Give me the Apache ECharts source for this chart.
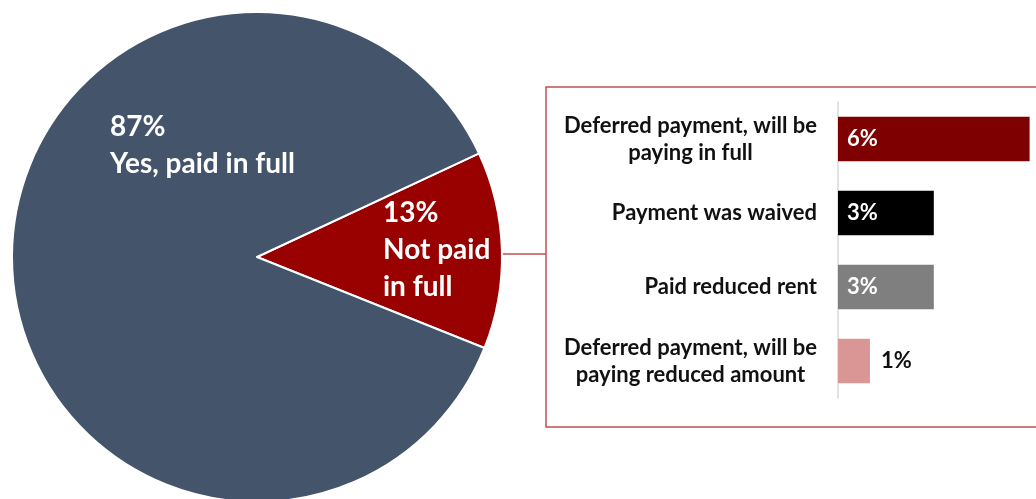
<!DOCTYPE html>
<html>
<head>
<meta charset="utf-8">
<script src="https://cdn.jsdelivr.net/npm/echarts@6/dist/echarts.min.js"></script>
<style>
html,body{margin:0;padding:0;background:#fff;}
#chart{width:1036px;height:499px;}
</style>
</head>
<body>
<div id="chart"></div>
<script>
// Pie data
const pieNames = ['Not paid\nin full', 'Yes, paid in full'];
const pieValues = [13, 87];
// Breakdown bar data
const barCategories = [
  'Deferred payment, will be\npaying in full',
  'Payment was waived',
  'Paid reduced rent',
  'Deferred payment, will be\npaying reduced amount'
];
const barValues = [6, 3, 3, 1];

const pieColors = ['#990000', '#44546A'];
const barColors = ['#7F0000', '#000000', '#7F7F7F', '#D99694'];
const FONT = 'Lato';

const chart = echarts.init(document.getElementById('chart'), null, {renderer: 'canvas'});

const catStyle = {fontSize: 22, fontWeight: 'bold', lineHeight: 27, color: '#111111', fontFamily: FONT};

const option = {
  backgroundColor: '#ffffff',
  animation: false,
  textStyle: {fontFamily: FONT},
  graphic: [
    {type: 'rect', z: 0, shape: {x: 546, y: 87, width: 520, height: 340},
     style: {fill: 'none', stroke: '#C0504D', lineWidth: 1.5}},
    {type: 'line', z: 0, shape: {x1: 500, y1: 254, x2: 546, y2: 254},
     style: {stroke: '#C0504D', lineWidth: 1.5}}
  ],
  grid: {left: 838, top: 102, width: 200, height: 296, containLabel: false},
  xAxis: {type: 'value', min: 0, max: 6.2, show: false, splitLine: {show: false}},
  yAxis: {
    type: 'category', inverse: true, data: barCategories,
    axisLine: {show: true, lineStyle: {color: '#D9D9D9', width: 1.5}},
    axisTick: {show: false},
    axisLabel: Object.assign({margin: 21, align: 'right',
      formatter: v => v.split('\n').map(s => '{c|' + s + '}').join('\n'),
      rich: {c: Object.assign({align: 'center'}, catStyle)}
    }, catStyle)
  },
  series: [
    {
      type: 'pie',
      center: [257, 257],
      radius: 245,
      startAngle: 25,
      clockwise: true,
      data: pieNames.map((n, i) => ({name: n, value: pieValues[i], itemStyle: {color: pieColors[i]}})),
      itemStyle: {borderColor: '#ffffff', borderWidth: 2},
      label: {
        show: true, position: 'inside', color: '#ffffff', fontSize: 28,
        fontWeight: 'bold', fontFamily: FONT, lineHeight: 37,
        formatter: p => p.value + '%\n' + p.name
      },
      labelLine: {show: false},
      labelLayout: function (params) {
        if (params.dataIndex === 0) {
          return {x: 383, y: 194.5, align: 'left', verticalAlign: 'top'};
        }
        return {x: 110, y: 108.5, align: 'left', verticalAlign: 'top'};
      },
      emphasis: {disabled: true}
    },
    {
      type: 'bar',
      barCategoryGap: '40%',
      data: barValues.map((v, i) => ({
        value: v,
        itemStyle: {color: barColors[i]},
        label: v < 2 ? {position: 'right', color: '#111111', distance: 11}
                     : {position: 'insideLeft', color: '#ffffff', distance: 9}
      })),
      label: {show: true, fontSize: 22, fontWeight: 'bold', fontFamily: FONT,
              formatter: p => p.value + '%'}
    }
  ]
};
chart.setOption(option);
</script>
</body>
</html>
